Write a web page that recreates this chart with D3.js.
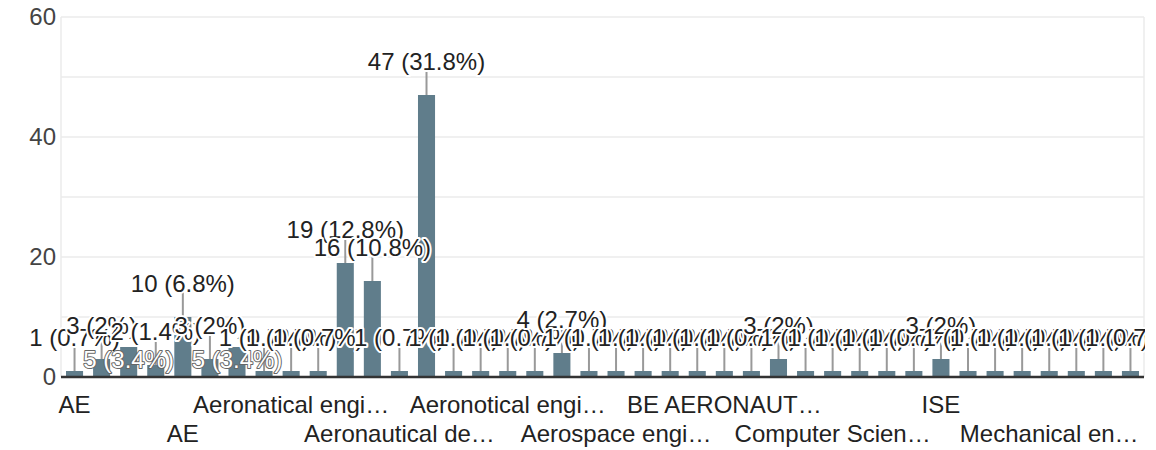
<!DOCTYPE html>
<html><head><meta charset="utf-8">
<script src="https://cdn.jsdelivr.net/npm/d3@7"></script>
<style>
body{margin:0;background:#fff;}
svg{display:block;font-family:"Liberation Sans",Arial,Helvetica,sans-serif;}
</style>
</head><body>
<svg id="chart" width="1156" height="450"></svg>
<script>
const categories = [
  "AE", "AE - Aeronautical", "AERONAUTICAL", "AERONAUTICAL ENGINEERING",
  "AE", "Aero", "Aeronautical", "Aeronatical Engineering",
  "Aeronatical engineering", "Aeronautial engineering", "Aeronautical", "Aeronautical Engineering",
  "Aeronautical department", "Aeronautical engineering", "Aeronautics", "Aeronauticals",
  "Aeronotical engineering", "Aerospace", "Aerospace Engineering", "Aerospace and aeronautical",
  "Aerospace engineering", "Aerospace engg", "B.E Aeronautical", "B.Tech Aeronautical",
  "BE AERONAUTICAL", "BE Aeronautical", "Civil Engineering", "CSE",
  "Computer Science", "ECE", "EEE", "Electrical",
  "ISE", "IT", "Mechanical", "Mechanical Engineering",
  "Mechanical engineering", "Mechatronics", "Production", "Robotics"
];
const counts = [
  1, 3, 5, 2, 10, 3, 5, 1,
  1, 1, 19, 16, 1, 47, 1, 1,
  1, 1, 4, 1, 1, 1, 1, 1,
  1, 1, 3, 1, 1, 1, 1, 1,
  3, 1, 1, 1, 1, 1, 1, 1
];
const totalResponses = 148;
const yTickValues = [0, 20, 40, 60];
const yGridValues = [0, 10, 20, 30, 40, 50, 60];

const svg = d3.select("#chart");
const x0 = 61, x1 = 1144, yTop = 17, yBase = 377;

const x = d3.scaleBand()
  .domain(d3.range(counts.length))
  .range([x0, x1])
  .paddingInner(0.37)
  .paddingOuter(0.185);
const y = d3.scaleLinear().domain([0, 60]).range([yBase, yTop]);

// gridlines
svg.append("g").selectAll("line").data(yGridValues).join("line")
  .attr("x1", x0).attr("x2", x1)
  .attr("y1", d => y(d)).attr("y2", d => y(d))
  .attr("stroke", "#ebebeb").attr("stroke-width", 1.5);
svg.append("line").attr("x1", x0).attr("x2", x0).attr("y1", yTop).attr("y2", yBase)
  .attr("stroke", "#ebebeb").attr("stroke-width", 1.5);
svg.append("line").attr("x1", x1).attr("x2", x1).attr("y1", yTop).attr("y2", yBase)
  .attr("stroke", "#ebebeb").attr("stroke-width", 1.5);

// y axis
const yAxis = svg.append("g").attr("transform", `translate(${x0},0)`)
  .call(d3.axisLeft(y).tickValues(yTickValues).tickSize(0).tickPadding(5));
yAxis.select(".domain").remove();
yAxis.selectAll("text").attr("font-size", 24).attr("fill", "#444")
  .attr("font-family", "Liberation Sans, Arial, sans-serif");

// bars
svg.append("g").selectAll("rect").data(counts).join("rect")
  .attr("x", (d, i) => x(i))
  .attr("width", x.bandwidth())
  .attr("y", d => y(d))
  .attr("height", d => y(0) - y(d))
  .attr("fill", "#607d8b");

// baseline
svg.append("line").attr("x1", x0).attr("x2", x1).attr("y1", yBase).attr("y2", yBase)
  .attr("stroke", "#333").attr("stroke-width", 2.5);

// x axis (every 4th category, alternating in two rows)
const shown = d3.range(0, categories.length, 4);
const xAxis = svg.append("g").attr("transform", `translate(0,${yBase})`)
  .call(d3.axisBottom(x).tickValues(shown).tickFormat(i => categories[i]).tickSize(0));
xAxis.select(".domain").remove();
xAxis.selectAll("text")
  .attr("font-size", 24).attr("fill", "#222")
  .attr("font-family", "Liberation Sans, Arial, sans-serif")
  .attr("dy", 0)
  .attr("y", (i) => ((i / 4) % 2 === 0 ? 36 : 65))
  .each(function (i) {
    const t = d3.select(this);
    const full = t.text();
    const cx = x(i) + x.bandwidth() / 2;
    const maxW = Math.min(196.6, 2 * (1140 - cx));
    if (this.getComputedTextLength() > maxW) {
      let s = full;
      while (s.length > 1) {
        s = s.slice(0, -1);
        t.text(s.replace(/\s+$/, "") + "…");
        if (this.getComputedTextLength() <= maxW) break;
      }
    }
  });

// annotations
const pct = v => `${+((v / totalResponses) * 100).toFixed(1)}%`;
const ann = counts.map((v, i) => ({
  v, i,
  cx: x(i) + x.bandwidth() / 2,
  label: `${v} (${pct(v)})`,
  inside: v === 5 // these labels sit inside the bar top in the reference
}));

svg.append("defs").append("clipPath").attr("id", "clip")
  .append("rect").attr("x", 0).attr("y", 0).attr("width", 1145).attr("height", 450);

const ag = svg.append("g").attr("clip-path", "url(#clip)");
ag.selectAll("line.stem").data(ann.filter(d => !d.inside)).join("line")
  .attr("class", "stem")
  .attr("x1", d => d.cx).attr("x2", d => d.cx)
  .attr("y1", d => y(d.v)).attr("y2", d => y(d.v) - 25)
  .attr("stroke", "#999").attr("stroke-width", 2);

ann.forEach(d => {
  const t = ag.append("text")
    .attr("x", d.cx)
    .attr("text-anchor", "middle")
    .attr("font-size", 24)
    .attr("font-family", "Liberation Sans, Arial, sans-serif")
    .attr("paint-order", "stroke")
    .attr("stroke-linejoin", "round")
    .text(d.label);
  if (d.inside) {
    t.attr("y", y(d.v) + 21).attr("fill", "#fff")
      .attr("stroke", "#666").attr("stroke-width", 2);
  } else {
    t.attr("y", y(d.v) - 25).attr("fill", "#222")
      .attr("stroke", "#fff").attr("stroke-width", 4);
  }
});
</script>
</body></html>
